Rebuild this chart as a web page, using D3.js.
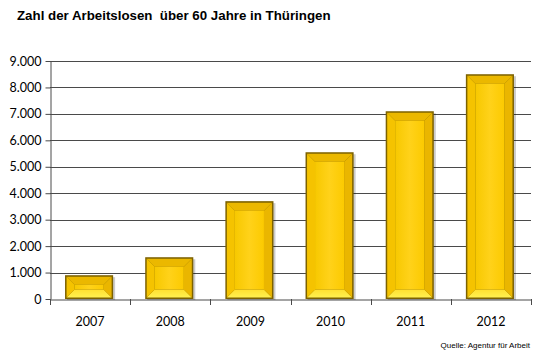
<!DOCTYPE html>
<html><head><meta charset="utf-8">
<script src="https://cdn.jsdelivr.net/npm/d3@7"></script>
<style>body{margin:0;background:#fff}svg{display:block}</style>
</head><body>
<script>
const title = "Zahl der Arbeitslosen  über 60 Jahre in Thüringen";
const source = "Quelle: Agentur für Arbeit";
const years = ["2007","2008","2009","2010","2011","2012"];
const values = [900, 1580, 3700, 5550, 7100, 8500];
const yTicks = [0,1000,2000,3000,4000,5000,6000,7000,8000,9000];

const W = 543, H = 360;
const m = {l:50, r:12, t:61, b:61};
const svg = d3.select("body").append("svg").attr("width",W).attr("height",H);

const x = d3.scaleBand().domain(years).range([m.l, W-m.r]).paddingInner(0.4).paddingOuter(0.2);
const xb = d3.scaleBand().domain(years).range([m.l, W-m.r]);
const y = d3.scaleLinear().domain([0,9000]).range([H-m.b, m.t]);
const fmt = v => d3.format(",")(v).replace(/,/g,".");

svg.append("text").attr("x",17).attr("y",20).style("white-space","pre").attr("font-family","Liberation Sans, Arial").attr("font-weight","bold").attr("font-size",13.3).attr("fill","#000").text(title);

svg.append("g").selectAll("line").data(yTicks.filter(d=>d>0)).join("line")
  .attr("x1",m.l).attr("x2",W-m.r).attr("y1",d=>Math.round(y(d))+0.5).attr("y2",d=>Math.round(y(d))+0.5)
  .attr("stroke","#4a4a4a").attr("stroke-width",1);

const ya = svg.append("g").attr("transform",`translate(${m.l+0.5},0)`)
  .call(d3.axisLeft(y).tickValues(yTicks).tickFormat(fmt).tickSize(5).tickSizeOuter(0));
ya.select(".domain").attr("stroke","#4a4a4a");
ya.selectAll(".tick line").attr("stroke","#4a4a4a");
ya.selectAll(".tick text").attr("font-family","Lato, 'Open Sans', sans-serif").attr("font-size",12.5).attr("fill","#000").attr("x",-9);

const xa = svg.append("g").attr("transform",`translate(0,${Math.round(y(0))+0.5})`)
  .call(d3.axisBottom(xb).tickSize(0).tickSizeOuter(0));
xa.select(".domain").attr("stroke","#4a4a4a");
xa.selectAll(".tick text").attr("font-family","Lato, 'Open Sans', sans-serif").attr("font-size",12.5).attr("fill","#000").attr("dy","1.9em");
svg.append("g").selectAll("line").data(years.concat(["end"])).join("line")
  .attr("x1",(d,i)=>Math.round(m.l + i*xb.step())+0.5).attr("x2",(d,i)=>Math.round(m.l + i*xb.step())+0.5)
  .attr("y1",Math.round(y(0))).attr("y2",Math.round(y(0))+6).attr("stroke","#4a4a4a");

const defs = svg.append("defs");
const g1 = defs.append("linearGradient").attr("id","face").attr("x1",0).attr("x2",1).attr("y1",0).attr("y2",0);
g1.append("stop").attr("offset","0").attr("stop-color","#f7c800");
g1.append("stop").attr("offset","0.5").attr("stop-color","#ffd21a");
g1.append("stop").attr("offset","1").attr("stop-color","#fcca00");
const g2 = defs.append("linearGradient").attr("id","bot").attr("x1",0).attr("x2",0).attr("y1",0).attr("y2",1);
g2.append("stop").attr("offset","0").attr("stop-color","#ffe030");
g2.append("stop").attr("offset","1").attr("stop-color","#fff050");

const bars = svg.append("g").selectAll("g").data(years).join("g");
bars.each(function(d,i){
  const g = d3.select(this);
  const x0 = x(d)-1, x1 = x(d)+x.bandwidth()-1, y0 = y(values[i]), y1 = y(0);
  const bev = Math.min(8, (y1-y0)/2.8);
  g.append("rect").attr("x",x0+2).attr("y",y0+2).attr("width",x1-x0).attr("height",y1-y0-1).attr("fill","#000").attr("opacity",0.2);
  g.append("rect").attr("x",x0).attr("y",y0).attr("width",x1-x0).attr("height",y1-y0).attr("fill","#7d6200");
  const a = x0+1.5, b = x1-1.5, c = y0+1.5, e = y1-1.5;
  const ia = a+bev, ib = b-bev, ic = c+bev, ie = e-bev;
  const poly = (pts, fill) => g.append("polygon").attr("points", pts.map(p=>p.join(",")).join(" ")).attr("fill",fill);
  poly([[a,c],[b,c],[ib,ic],[ia,ic]], "#ebb800");
  poly([[a,e],[b,e],[ib,ie],[ia,ie]], "url(#bot)");
  poly([[a,c],[ia,ic],[ia,ie],[a,e]], "#f5c300");
  poly([[b,c],[ib,ic],[ib,ie],[b,e]], "#eab600");
  g.append("rect").attr("x",ia).attr("y",ic).attr("width",Math.max(0,ib-ia)).attr("height",Math.max(0,ie-ic)).attr("fill","url(#face)");
});

svg.append("text").attr("x",530).attr("y",348).attr("text-anchor","end").attr("font-family","Liberation Sans, Arial").attr("font-size",8).attr("fill","#000").text(source);
</script>
</body></html>
